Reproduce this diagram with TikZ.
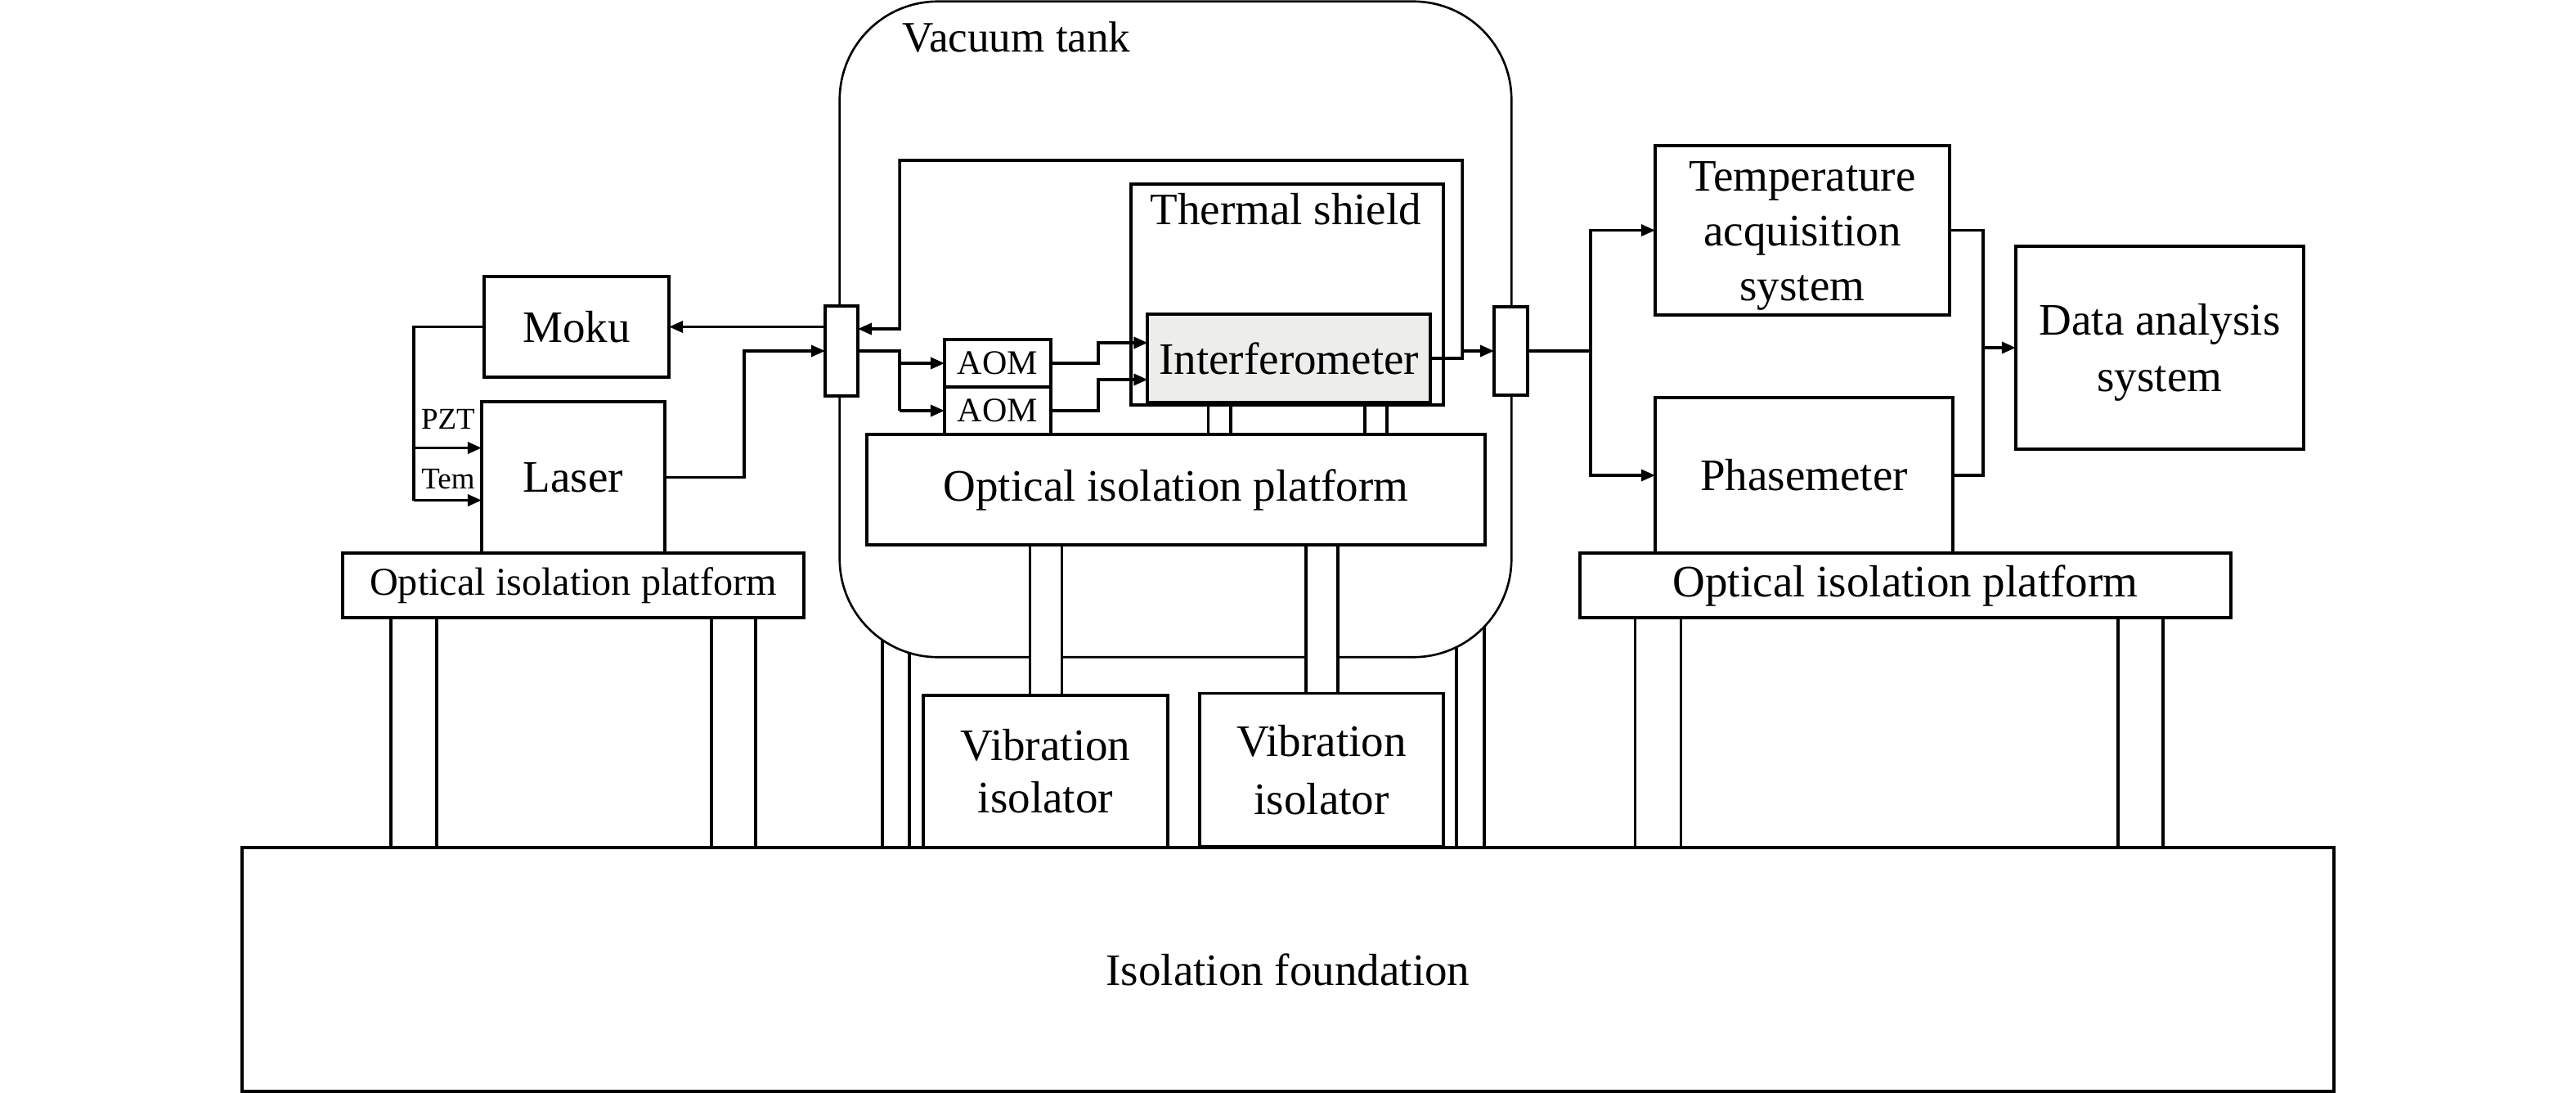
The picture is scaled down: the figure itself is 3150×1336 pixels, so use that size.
\documentclass[tikz,border=0pt]{standalone}
\usepackage{fontspec}
\setmainfont{Liberation Serif}
\usetikzlibrary{arrows.meta,calc}
\newcommand\fmain{\fontsize{15.65}{18.8}\selectfont}
\newcommand\ftank{\fontsize{15.1}{18}\selectfont}
\newcommand\fplat{\fontsize{13.7}{16.5}\selectfont}
\newcommand\faom{\fontsize{11.95}{14}\selectfont}
\newcommand\fsmall{\fontsize{10.5}{12.6}\selectfont}
\definecolor{ifgray}{RGB}{237,237,235}
\begin{document}
\begin{tikzpicture}[x=0.01cm,y=-0.01cm,
  box/.style={draw, line width=1.1pt, inner sep=0pt, outer sep=0pt, fill=white, font=\fmain, align=center},
  leg/.style={draw, fill=white, line width=0.9pt},
  conn/.style={line width=1pt},
  arr/.style={conn, -{Triangle[length=1.7mm,width=1.4mm]}}]
\useasboundingbox (0,0) rectangle (3150,1336);
% foundation
\node[box, minimum width=25.56cm, minimum height=2.98cm] (found) at (1575,1185) {Isolation foundation};
% legs of left / right platforms
\draw[leg] (478,755) rectangle (534,1036);
\draw[leg] (870,755) rectangle (924,1036);
\draw[leg] (1999.5,755) rectangle (2055.6,1036);
\draw[leg] (2590,755) rectangle (2645,1036);
% tank legs
\draw[leg] (1079,700) rectangle (1112,1036);
\draw[leg] (1781,700) rectangle (1815,1036);
% vacuum tank
\node[draw, line width=0.75pt, rounded corners=1.2cm, fill=white, inner sep=0pt, outer sep=0pt, minimum width=8.21cm, minimum height=8.01cm] (tank) at (1437.5,402.5) {};
\node[font=\ftank, anchor=base west, inner sep=0pt] (tanklbl) at (1103,63) {Vacuum tank};
% inner platform and legs
\node[box, minimum width=7.56cm, minimum height=1.35cm] (iplat) at (1438,598.5) {Optical isolation platform};
\draw[leg] (1259.5,666) rectangle (1298.5,850);
\draw[leg] (1597,666) rectangle (1636,849);
\node[box, minimum width=2.99cm, minimum height=1.86cm] (vi1) at (1278.5,943) {Vibration\\[-0.6pt]isolator};
\node[box, minimum width=2.98cm, minimum height=1.87cm] (vi2) at (1616,941) {Vibration\\[1.2pt]isolator};
% thermal shield
\draw[leg] (1477.6,494) rectangle (1505,531);
\draw[leg] (1669,494) rectangle (1696,531);
\node[box, minimum width=3.815cm, minimum height=2.70cm] (shield) at (1574.25,360) {};
\node[font=\fmain, anchor=base, inner sep=0pt] (shieldlbl) at ($(shield.north)+(-2,49.5)$) {Thermal shield};
\node[box, fill=ifgray, minimum width=3.455cm, minimum height=1.08cm] (interf) at (1576.25,438) {Interferometer};
% AOMs
\node[box, font=\faom, minimum width=1.30cm, minimum height=0.58cm] (aom1) at (1220,444) {AOM};
\node[box, font=\faom, minimum width=1.30cm, minimum height=0.58cm] (aom2) at (1220,502) {AOM};
% feedthroughs
\node[box, minimum width=0.40cm, minimum height=1.10cm] (c1) at (1029,429) {};
\node[box, minimum width=0.41cm, minimum height=1.08cm] (c2) at (1847.5,429) {};
% left side
\node[box, font=\fplat, minimum width=5.64cm, minimum height=0.79cm] (lplat) at (701,715.5) {Optical isolation platform};
\node[box, minimum width=2.26cm, minimum height=1.23cm] (moku) at (705,399.5) {Moku};
\node[box, minimum width=2.24cm, minimum height=1.85cm] (laser) at (701,583.5) {Laser};
% right side
\node[box, minimum width=7.96cm, minimum height=0.79cm] (rplat) at (2330,715.5) {Optical isolation platform};
\node[box, minimum width=3.60cm, minimum height=2.07cm] (temp) at (2204,281.5) {\rule{0pt}{14.1pt}Temperature\\[0.3pt]acquisition\\[0.3pt]system};
\node[box, minimum width=3.64cm, minimum height=1.90cm] (phase) at (2206,581) {Phasemeter};
\node[box, minimum width=3.52cm, minimum height=2.48cm] (data) at (2641,425) {\rule{0pt}{14.1pt}Data analysis\\[0.8pt]system};
% connectors: left
\draw[arr] (moku.east -| c1.west) -- (moku.east);
\draw[arr] (laser.east) -- ++(97,0) |- (c1.west);
\coordinate (pzt) at ($(moku.west)+(-86,148)$);
\coordinate (tem) at ($(moku.west)+(-86,212)$);
\draw[conn] (moku.west) -| (tem);
\draw[arr] (pzt) -- (pzt -| laser.west);
\draw[arr] (tem) -- (tem -| laser.west);
\node[font=\fsmall, anchor=base, inner sep=0pt] (pztl) at ($(pzt)+(42,-23)$) {PZT};
\node[font=\fsmall, anchor=base, inner sep=0pt] (teml) at ($(tem)+(42,-14)$) {Tem};
% coupler to AOMs
\coordinate (sp) at ($(c1.east)+(51,0)$);
\draw[conn] (c1.east) -- (sp) -- (sp |- aom2.west);
\draw[arr] (sp |- aom1.west) -- (aom1.west);
\draw[arr] (sp |- aom2.west) -- (aom2.west);
% AOMs to interferometer
\draw[arr] (aom1.east) -- ++(58,0) |- ($(interf.west)+(0,-19)$);
\draw[arr] (aom2.east) -- ++(58,0) |- ($(interf.west)+(0,26)$);
% interferometer output and feedback loop
\coordinate (jn) at ($(interf.east)+(39,0)$);
\coordinate (lt) at (1100,196);
\coordinate (lp) at ($(c1.east)+(51,-27)$);
\draw[arr] (interf.east) -- (jn) |- (lt) -- (lp) -- (lp -| c1.east);
\draw[arr] (jn |- c2.west) -- (c2.west);
% right side connectors
\coordinate (sp2) at ($(c2.east)+(77,0)$);
\draw[conn] (c2.east) -- (sp2);
\draw[arr] (sp2) |- (temp.west);
\draw[arr] (sp2) |- (phase.west);
\coordinate (sp3) at ($(data.west)+(-40,0)$);
\draw[conn] (temp.east) -| (sp3);
\draw[conn] (phase.east) -| (sp3);
\draw[arr] (sp3) -- (data.west);
\end{tikzpicture}
\end{document}
